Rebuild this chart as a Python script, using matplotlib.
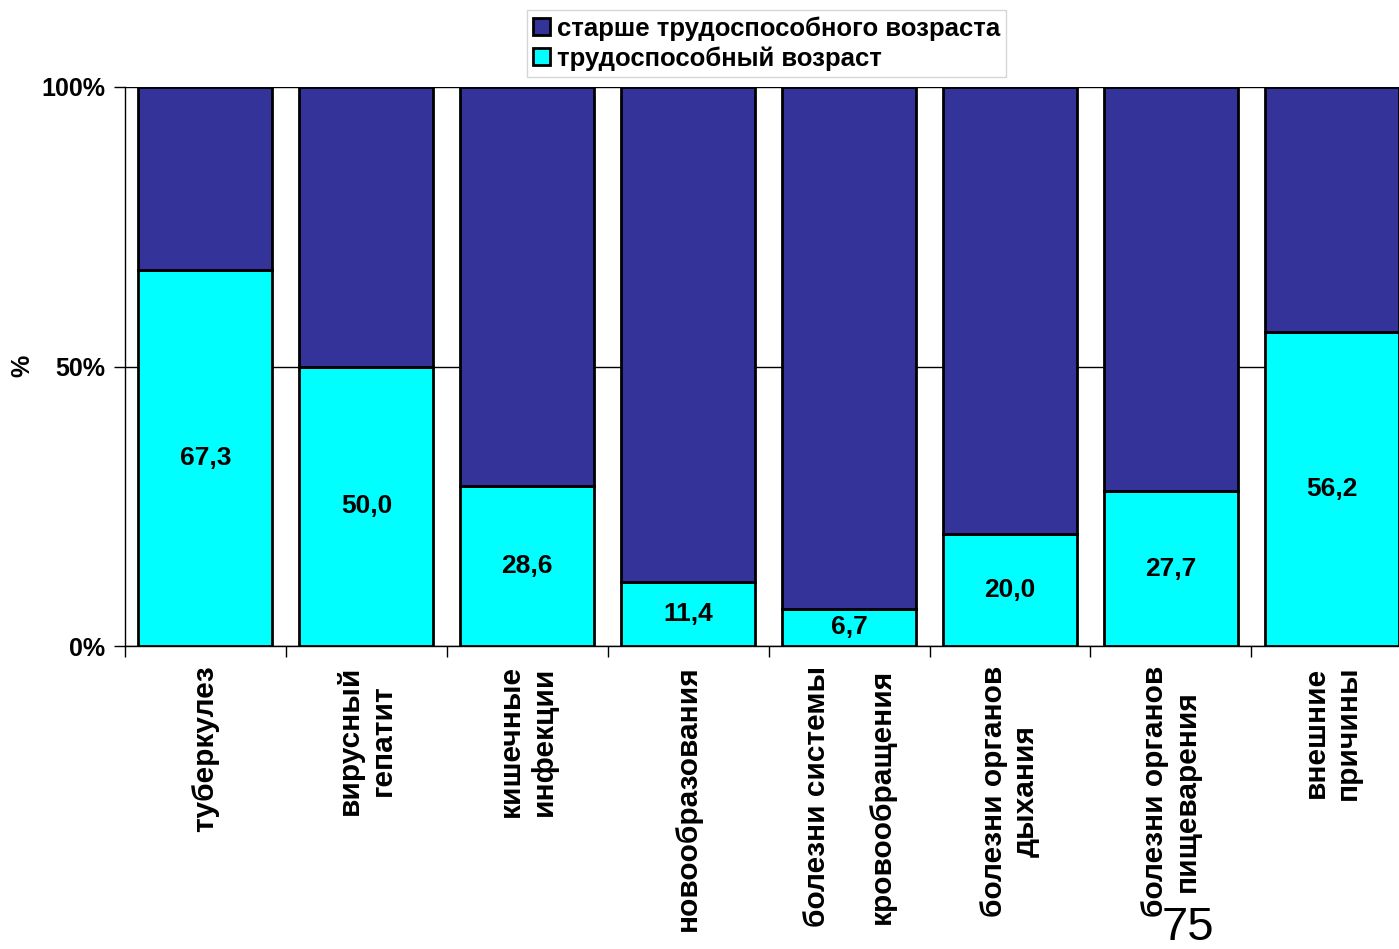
import numpy as np
import matplotlib.pyplot as plt

plt.rcParams['font.family'] = ['Liberation Sans', 'DejaVu Sans']

categories = ['туберкулез', 'вирусный\nгепатит', 'кишечные\nинфекции', 'новообразования',
              'болезни системы\n\nкровообращения', 'болезни органов\nдыхания',
              'болезни органов\nпищеварения', 'внешние\nпричины']
working_age = [67.3, 50.0, 28.6, 11.4, 6.7, 20.0, 27.7, 56.2]
older_age = [100 - v for v in working_age]
value_labels = ['67,3', '50,0', '28,6', '11,4', '6,7', '20,0', '27,7', '56,2']

fig = plt.figure(figsize=(13.99, 9.49), dpi=100)
ax = fig.add_axes([125/1399, 1 - 646/949, 8*160.9/1399, (646-87)/949])

x = np.arange(len(categories))
w = 0.833
ax.bar(x, working_age, w, color='#00FFFF', edgecolor='black', linewidth=2,
       label='трудоспособный возраст', zorder=3)
ax.bar(x, older_age, w, bottom=working_age, color='#333399', edgecolor='black',
       linewidth=2, label='старше трудоспособного возраста', zorder=3)

for xi, v, s in zip(x, working_age, value_labels):
    ax.text(xi, v/2, s, ha='center', va='center', fontsize=19, fontweight='bold', zorder=4)

ax.set_xlim(-0.5, 7.5)
ax.set_ylim(0, 100)
ax.set_yticks([0, 50, 100])
ax.set_yticklabels(['0%', '50%', '100%'], fontsize=18, fontweight='bold')
ax.yaxis.grid(True, color='black', linewidth=1, zorder=0)
ax.tick_params(axis='y', length=8, width=1, pad=6)

ax.set_xticks(np.arange(-0.5, 8, 1))
ax.set_xticklabels([])
ax.tick_params(axis='x', which='major', length=8, width=1, direction='out')
ax.set_xticks(x, minor=True)
ax.set_xticklabels(categories, minor=True, rotation=90, fontsize=21.5, fontweight='bold',
                   va='top', ha='center', multialignment='center')
ax.tick_params(axis='x', which='minor', length=0, pad=14)

ax.spines['top'].set_visible(False)
ax.spines['right'].set_visible(False)
ax.spines['left'].set_linewidth(1)
ax.spines['bottom'].set_linewidth(1)

fig.text(22/1399, 1 - 366/949, '%', fontsize=18, fontweight='bold', rotation=90,
         ha='center', va='center')

handles, labels = ax.get_legend_handles_labels()
leg = fig.legend(handles[::-1], labels[::-1], loc='upper left',
                 bbox_to_anchor=(527/1399, 1 - 10/949), frameon=True, fancybox=False,
                 prop={'size': 18.5, 'weight': 'bold'}, handlelength=0.65, handleheight=0.65,
                 handletextpad=0.25, borderpad=0.25, labelspacing=0.2, borderaxespad=0)
leg.get_frame().set_edgecolor('#cccccc')
leg.get_frame().set_linewidth(1)

fig.text(1188/1399, 1 - 928/949, '75', fontsize=34, ha='center', va='center')

fig.savefig('out.png', dpi=100)
